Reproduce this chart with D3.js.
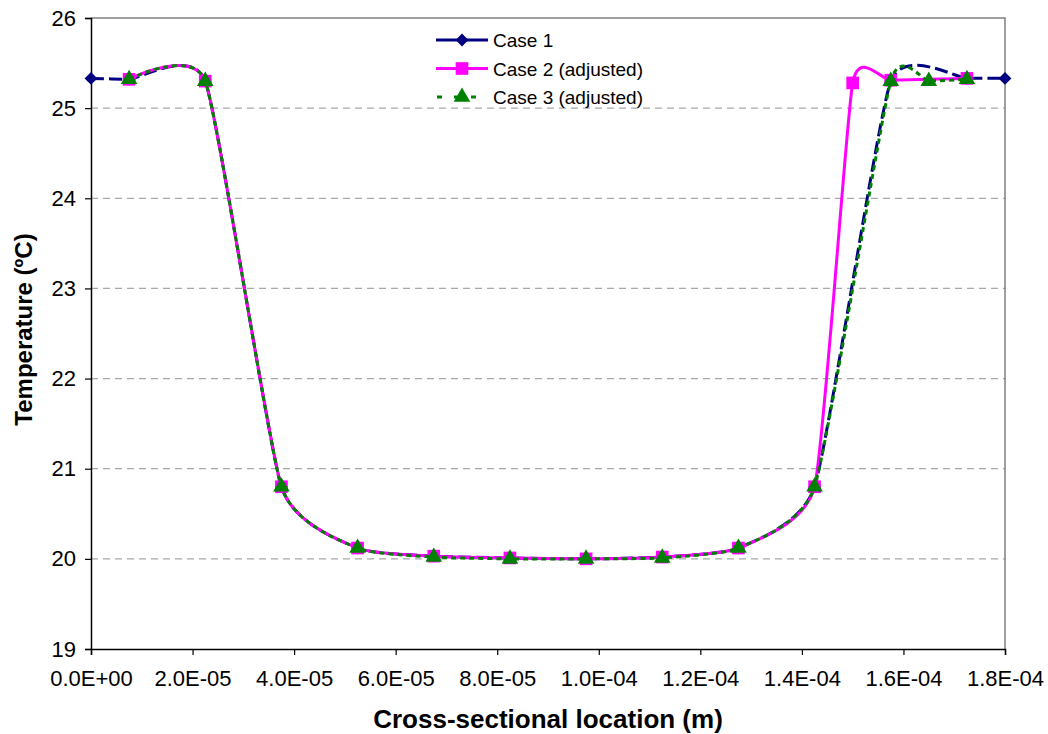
<!DOCTYPE html>
<html>
<head>
<meta charset="utf-8">
<script src="https://cdn.jsdelivr.net/npm/d3@7"></script>
<style>
  body { margin: 0; background: #fff; }
  text { font-family: Arial, "Liberation Sans", sans-serif; }
</style>
</head>
<body>
<div id="chart"></div>
<script>
// x positions (m) and temperatures (ºC)
const case1X = [0, 7.5e-6, 2.25e-5, 3.75e-5, 5.25e-5, 6.75e-5, 8.25e-5, 9.75e-5, 1.125e-4, 1.275e-4, 1.425e-4, 1.575e-4, 1.725e-4, 1.8e-4];
const case1Y = [25.33, 25.32, 25.30, 20.80, 20.12, 20.03, 20.01, 20.00, 20.02, 20.12, 20.80, 25.30, 25.33, 25.33];

const case2X = [7.5e-6, 2.25e-5, 3.75e-5, 5.25e-5, 6.75e-5, 8.25e-5, 9.75e-5, 1.125e-4, 1.275e-4, 1.425e-4, 1.5e-4, 1.575e-4, 1.725e-4];
const case2Y = [25.32, 25.30, 20.80, 20.12, 20.03, 20.01, 20.00, 20.02, 20.12, 20.80, 25.28, 25.31, 25.33];

const case3X = [7.5e-6, 2.25e-5, 3.75e-5, 5.25e-5, 6.75e-5, 8.25e-5, 9.75e-5, 1.125e-4, 1.275e-4, 1.425e-4, 1.575e-4, 1.65e-4, 1.725e-4];
const case3Y = [25.32, 25.30, 20.80, 20.12, 20.02, 20.00, 20.00, 20.01, 20.12, 20.80, 25.30, 25.30, 25.32];

const seriesNames = ['Case 1', 'Case 2 (adjusted)', 'Case 3 (adjusted)'];
const xTicks = [0, 2e-5, 4e-5, 6e-5, 8e-5, 1e-4, 1.2e-4, 1.4e-4, 1.6e-4, 1.8e-4];
const yTicks = [19, 20, 21, 22, 23, 24, 25, 26];
const xTitle = 'Cross-sectional location (m)';
const yTitle = 'Temperature (ºC)';

// styling per series (diamond = square turned 45deg, like Excel)
const styles = [
    {color: '#000080', dash: '13,5', symbol: d3.symbolSquare, size: 82, rot: 45},
    {color: '#ff00ff', dash: null, symbol: d3.symbolSquare, size: 160, rot: 0},
    {color: '#008000', dash: '5,4', symbol: d3.symbolTriangle, size: 120, rot: 0}
];

const series = [
    case1X.map((x, i) => ({x: x, y: case1Y[i]})),
    case2X.map((x, i) => ({x: x, y: case2Y[i]})),
    case3X.map((x, i) => ({x: x, y: case3Y[i]}))
];

const width = 1048;
const height = 734;
const margin = {t: 18, r: 43, b: 85, l: 91};

const svg = d3.select('#chart')
    .append('svg')
    .attr('width', width)
    .attr('height', height);

const scaleX = d3.scaleLinear().domain([0, 1.8e-4]).range([margin.l, width - margin.r]);
const scaleY = d3.scaleLinear().domain([19, 26]).range([height - margin.b, margin.t]);

// gridlines
svg.append('g')
    .selectAll('line')
    .data(yTicks.filter(d => d > 19 && d < 26))
    .join('line')
    .attr('x1', scaleX(0))
    .attr('x2', scaleX(1.8e-4))
    .attr('y1', d => scaleY(d))
    .attr('y2', d => scaleY(d))
    .attr('stroke', '#a8a8a8')
    .attr('stroke-width', 1.3)
    .attr('stroke-dasharray', '7,5');

// top and right frame
svg.append('path')
    .attr('d', `M${scaleX(0)},${scaleY(26)}H${scaleX(1.8e-4)}V${scaleY(19)}`)
    .attr('fill', 'none')
    .attr('stroke', '#808080')
    .attr('stroke-width', 1.5);

// axes
const fmt = d => d === 0 ? '0.0E+00' : d3.format('.1e')(d).replace('e', 'E').replace(/E([+-])(\d)$/, 'E$10$2');

const xAxis = svg.append('g')
    .attr('transform', `translate(0,${scaleY(19)})`)
    .call(d3.axisBottom(scaleX).tickValues(xTicks).tickFormat(fmt).tickSizeOuter(0).tickSize(6).tickPadding(15));

const yAxis = svg.append('g')
    .attr('transform', `translate(${scaleX(0)},0)`)
    .call(d3.axisLeft(scaleY).tickValues(yTicks).tickFormat(d3.format('d')).tickSizeOuter(0).tickSize(6).tickPadding(9));

[xAxis, yAxis].forEach(ax => {
    ax.select('.domain').attr('stroke', '#000').attr('stroke-width', 1.5);
    ax.selectAll('.tick line').attr('stroke', '#000').attr('stroke-width', 1.2);
    ax.selectAll('.tick text')
        .attr('fill', '#000')
        .style('font-size', '22px')
        .style('font-family', 'Arial, "Liberation Sans", sans-serif');
});

// lines, Excel-like smoothing
const line = d3.line()
    .curve(d3.curveCardinal.tension(0.5))
    .x(d => scaleX(d.x))
    .y(d => scaleY(d.y));

series.forEach((data, i) => {
    const st = styles[i];
    const g = svg.append('g');
    g.append('path')
        .datum(data)
        .attr('fill', 'none')
        .attr('stroke', st.color)
        .attr('stroke-width', 3)
        .attr('stroke-dasharray', st.dash)
        .attr('d', line);
    g.selectAll('path.marker')
        .data(data)
        .join('path')
        .attr('class', 'marker')
        .attr('transform', d => `translate(${scaleX(d.x)},${scaleY(d.y)}) rotate(${st.rot})`)
        .attr('d', d3.symbol().type(st.symbol).size(st.size))
        .attr('fill', st.color);
});

// legend
const legend = svg.append('g').attr('transform', 'translate(436,40)');
seriesNames.forEach((name, i) => {
    const st = styles[i];
    const row = legend.append('g').attr('transform', `translate(0,${i * 28.5})`);
    row.append('line')
        .attr('x1', 0).attr('x2', 52)
        .attr('stroke', st.color)
        .attr('stroke-width', 3)
        .attr('stroke-dasharray', i === 2 ? '5,12' : null)
        .attr('stroke-dashoffset', i === 2 ? -1 : 0);
    row.append('path')
        .attr('transform', `translate(26,0) rotate(${st.rot})`)
        .attr('d', d3.symbol().type(st.symbol).size(st.size))
        .attr('fill', st.color);
    row.append('text')
        .attr('x', 57)
        .attr('y', 7)
        .style('font-size', '19px')
        .text(name);
});

// axis titles
svg.append('text')
    .attr('x', (scaleX(0) + scaleX(1.8e-4)) / 2)
    .attr('y', 728)
    .attr('text-anchor', 'middle')
    .style('font-size', '26px')
    .style('font-weight', 'bold')
    .text(xTitle);

svg.append('text')
    .attr('transform', `translate(32,${(scaleY(19) + scaleY(26)) / 2 - 4}) rotate(-90)`)
    .attr('text-anchor', 'middle')
    .style('font-size', '24px')
    .style('font-weight', 'bold')
    .text(yTitle);
</script>
</body>
</html>
